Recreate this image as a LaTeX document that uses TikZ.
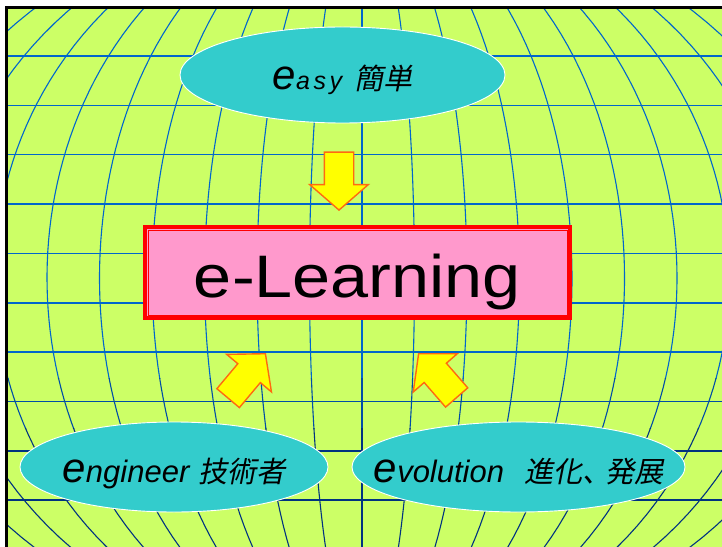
\documentclass[tikz,border=0pt]{standalone}
\usepackage{fontspec}
\setmainfont{Liberation Sans}
\newfontfamily\jpfont[FakeSlant=0.2]{Noto Sans CJK JP}
\newfontfamily\widesans[FakeStretch=1.14]{Liberation Sans}
\usepackage{tikz}
\usetikzlibrary{shapes.geometric,shapes.arrows}
\definecolor{lime}{HTML}{CCFF66}
\definecolor{aqua}{HTML}{33CCCC}
\definecolor{rose}{HTML}{FF99CC}
\definecolor{signal}{HTML}{FF0000}
\definecolor{lemon}{HTML}{FFFF00}
\definecolor{tangerine}{HTML}{FF6A10}
\definecolor{gridblue}{HTML}{0066CC}
\definecolor{gridmid}{HTML}{004DA6}
\definecolor{gridnavy}{HTML}{003380}
\newcommand{\initial}[1]{{\fontsize{42bp}{42bp}\selectfont\itshape #1}}
\newcommand{\rest}[1]{{\fontsize{31bp}{31bp}\selectfont\itshape #1}}
\newcommand{\jp}[1]{{\fontsize{29bp}{29bp}\selectfont\jpfont #1}}
% baseline sits 15bp below the bubble centre
\newcommand{\bubbletext}[1]{\smash{\raisebox{-15bp}{\makebox[0pt]{#1}}}}
\tikzset{
  latline/.style={line width=1.6bp},
  meridian/.style={line width=1.1bp},
  bubble/.style={ellipse, draw=white, line width=0.9bp, fill=aqua, inner sep=0pt},
  learnbox/.style={rectangle, draw=signal, fill=rose, line width=4bp, inner sep=0pt,
                   minimum width=425bp, minimum height=91bp, text height=49bp, text depth=0pt,
                   font=\widesans\fontsize{60bp}{60bp}\selectfont},
  blockarrow/.style={single arrow, draw=tangerine, fill=lemon, line width=1.4bp,
                     inner xsep=0pt, inner ysep=14bp, minimum height=58bp,
                     single arrow head extend=14.5bp, single arrow tip angle=98, anchor=tip},
}
\begin{document}
\begin{tikzpicture}[x=1bp, y=-1bp]
\clip (0,0) rectangle (722,547);
\fill[white] (0,0) rectangle (722,547);
\fill[lime] (6.5,7.5) rectangle (722,547);

% globe grid
\begin{scope}
  \clip (8,9) rectangle (722,547);
  \foreach \k/\col in {0/gridblue,1/gridblue,2/gridblue,3/gridblue,4/gridblue,
                       5/gridblue,6/gridblue,7/gridmid,8/gridnavy,9/gridnavy}
    \draw[latline, draw=\col] (8,{56+49.35*\k}) -- (722,{56+49.35*\k});
\end{scope}
\foreach \ytop/\ybot/\col in {9/378/gridblue, 378/428/gridmid, 428/547/gridnavy} {
  \begin{scope}
    \clip (8,\ytop) rectangle (722,\ybot);
    \foreach \i in {-10,...,10}
      \draw[meridian, draw=\col] plot[domain=0:560, samples=50, variable=\t]
        ({362+\i*52.5*sqrt(1-((\t-278)/374)*((\t-278)/374))}, \t);
  \end{scope}
}
\draw[black, line width=3bp] (6.5,547) |- (722,7.5);

\node[bubble, minimum width=325bp, minimum height=96bp] (easy) at (342.5,75)
  {\bubbletext{\initial{e}{\fontsize{25bp}{25bp}\selectfont\itshape\addfontfeatures{LetterSpace=14}asy}\hspace{12bp}\jp{簡単}}};
\node[bubble, minimum width=308bp, minimum height=90bp] (engineer) at (174,467)
  {\bubbletext{\initial{e}\rest{ngineer}\hspace{9bp}\jp{技術者}}};
\node[bubble, minimum width=333bp, minimum height=90bp] (evolution) at (518.5,467)
  {\bubbletext{\initial{e}\rest{volution}\hspace{20bp}\jp{進化、\kern-6bp 発展}}};

\node[learnbox] (learn) at (357.5,272.5) {e-Learning};
\draw[signal, line width=0.8bp] ([shift={(5,5)}]learn.north west) rectangle ([shift={(-5,-5)}]learn.south east);

\node[blockarrow, rotate=-90] (downarr) at (339,211) {};
\node[blockarrow, rotate=50] (leftarr) at (266,353) {};
\node[blockarrow, rotate=131] (rightarr) at (418,353) {};
\end{tikzpicture}
\end{document}
